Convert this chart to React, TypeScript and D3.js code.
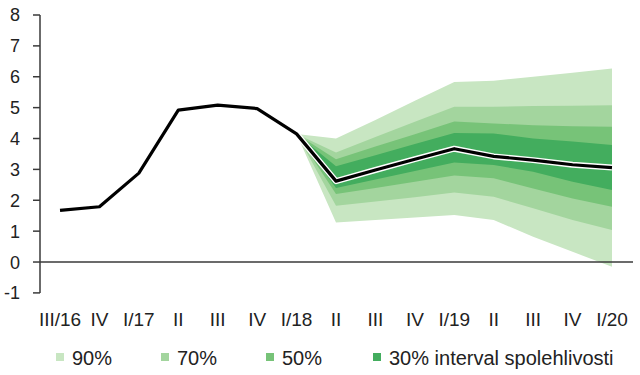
import React from "react";
import * as d3 from "d3";

const categories = ["III/16", "IV", "I/17", "II", "III", "IV", "I/18", "II", "III", "IV", "I/19", "II", "III", "IV", "I/20"];
const central = [1.67, 1.79, 2.88, 4.92, 5.08, 4.97, 4.15, 2.62, 2.98, 3.33, 3.67, 3.42, 3.3, 3.15, 3.06];

// fan begins at I/18 (index 6)
const fanStart = 6;
const hi90 = [4.15, 4.0, 4.6, 5.22, 5.83, 5.87, 6.0, 6.13, 6.27];
const hi70 = [4.15, 3.55, 4.05, 4.54, 5.03, 5.03, 5.05, 5.06, 5.08];
const hi50 = [4.15, 3.33, 3.74, 4.14, 4.55, 4.49, 4.43, 4.4, 4.38];
const hi30 = [4.15, 3.1, 3.46, 3.82, 4.18, 4.16, 4.0, 3.9, 3.79];
const lo30 = [4.15, 2.4, 2.67, 2.95, 3.22, 3.14, 2.92, 2.6, 2.33];
const lo50 = [4.15, 2.2, 2.4, 2.6, 2.8, 2.71, 2.38, 2.06, 1.79];
const lo70 = [4.15, 1.82, 1.96, 2.1, 2.25, 2.11, 1.74, 1.36, 1.04];
const lo90 = [4.15, 1.28, 1.36, 1.44, 1.52, 1.36, 0.82, 0.33, -0.15];

const yTicks = [-1, 0, 1, 2, 3, 4, 5, 6, 7, 8];
const legendLabels = ["90%", "70%", "50%", "30% interval spolehlivosti"];
const bandColors = ["#c8e6c2", "#a3d59e", "#77c378", "#43ad5e"];

const W = 640;
const H = 375;
const FONT = "'Liberation Sans', Arial, sans-serif";

export default function App() {
  const x = d3.scalePoint<string>().domain(categories.map((_, i) => String(i))).range([40.3, 631.7]).padding(0.5);
  const y = d3.scaleLinear().domain([-1, 8]).range([292.9, 15]);
  const xi = (i: number) => x(String(i)) as number;

  const bands = [
    { lo: lo90, hi: hi90, c: bandColors[0] },
    { lo: lo70, hi: hi70, c: bandColors[1] },
    { lo: lo50, hi: hi50, c: bandColors[2] },
    { lo: lo30, hi: hi30, c: bandColors[3] },
  ];
  const area = d3
    .area<{ i: number; lo: number; hi: number }>()
    .x((d) => xi(d.i))
    .y0((d) => y(d.lo))
    .y1((d) => y(d.hi));
  const line = d3
    .line<number>()
    .x((_, i) => xi(i))
    .y((d) => y(d));
  const fanLine = d3
    .line<number>()
    .x((_, i) => xi(fanStart + i))
    .y((d) => y(d));

  const legendX = [72, 177, 282, 389];

  return (
    <svg width={W} height={H} style={{ position: "absolute", left: 0, top: 0, background: "#fff" }} fontFamily={FONT}>
      <rect x={0} y={0} width={W} height={H} fill="#fff" />
      {bands.map((b, k) => (
        <path
          key={k}
          d={area(b.lo.map((lo, j) => ({ i: fanStart + j, lo, hi: b.hi[j] }))) || ""}
          fill={b.c}
        />
      ))}
      {/* zero line */}
      <line x1={40} x2={633} y1={y(0)} y2={y(0)} stroke="#3a3a3a" strokeWidth={1.5} />
      {/* y axis */}
      <line x1={40} x2={40} y1={y(8)} y2={y(-1)} stroke="#3a3a3a" strokeWidth={1.5} />
      {yTicks.map((t) => (
        <g key={t}>
          <line x1={33} x2={40} y1={y(t)} y2={y(t)} stroke="#3a3a3a" strokeWidth={1.5} />
          <text x={20} y={y(t)} dy="0.36em" textAnchor="end" fontSize={18} fill="#222">
            {t}
          </text>
        </g>
      ))}
      {/* central line */}
      <path
        d={fanLine(central.slice(fanStart)) || ""}
        fill="none"
        stroke="#fff"
        strokeWidth={6}
        strokeLinejoin="round"
      />
      <path d={line(central) || ""} fill="none" stroke="#000" strokeWidth={3.2} strokeLinejoin="round" />
      {/* x labels */}
      {categories.map((c, i) => (
        <text key={i} x={xi(i)} y={326} textAnchor="middle" fontSize={19} fill="#222">
          {c}
        </text>
      ))}
      {/* legend */}
      {legendLabels.map((l, k) => (
        <g key={k}>
          <rect x={legendX[k] - 16} y={353} width={8} height={8} fill={bandColors[k]} />
          <text x={legendX[k]} y={365} fontSize={20} fill="#222">
            {l}
          </text>
        </g>
      ))}
    </svg>
  );
}
